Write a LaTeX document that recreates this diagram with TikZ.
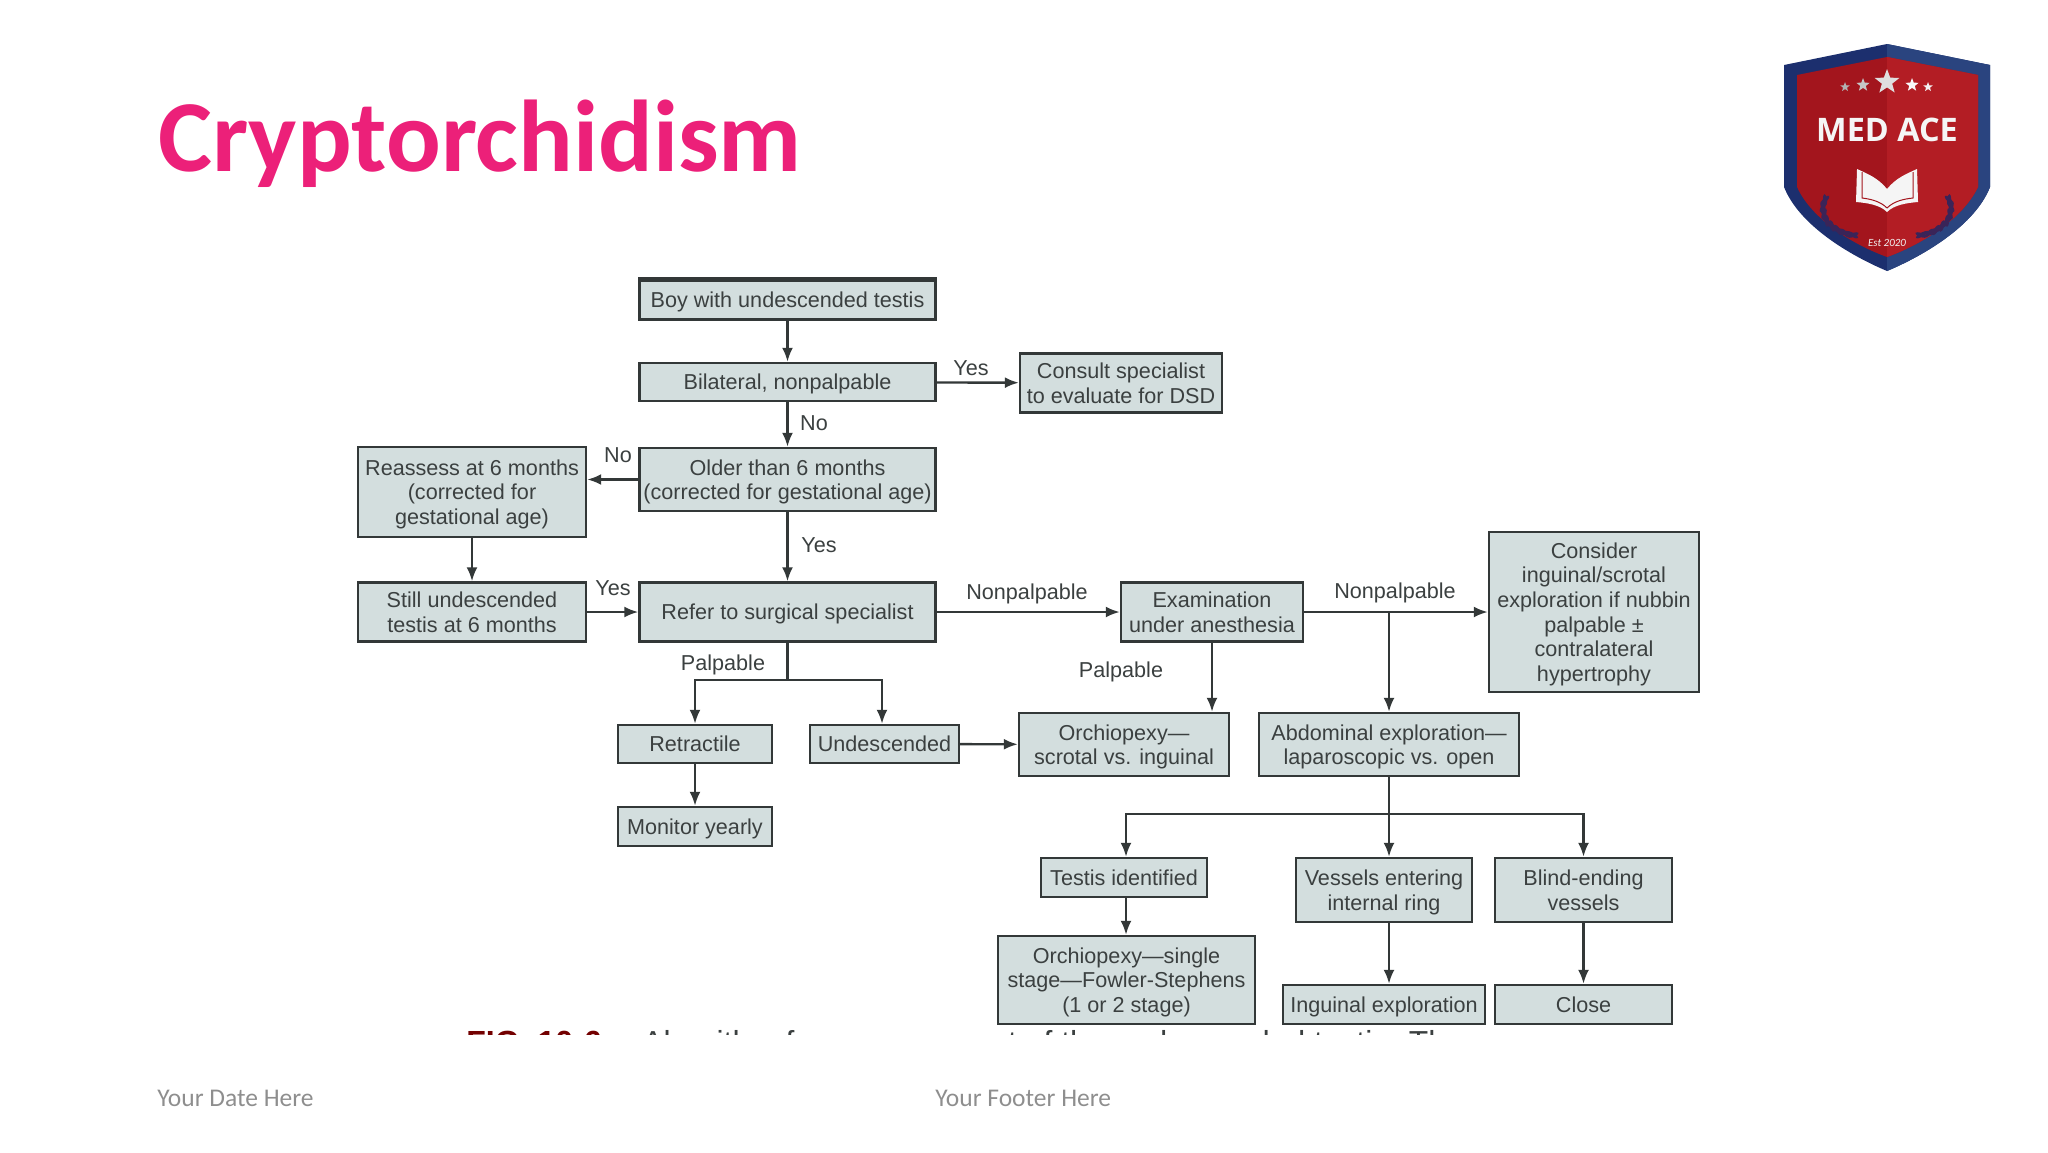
\documentclass[tikz,border=0pt]{standalone}
\usepackage{fontspec}
\setmainfont{Liberation Sans}
\newfontfamily\slidefont{Carlito}
\newfontfamily\logofont{Open Sans}
\usetikzlibrary{positioning, shapes.geometric, arrows.meta, calc}

\definecolor{boxfill}{HTML}{D3DEDE}
\definecolor{boxline}{HTML}{333838}
\definecolor{boxtext}{HTML}{3B4040}
\definecolor{titlepink}{HTML}{EC2079}
\definecolor{footgrey}{HTML}{8E8E8E}
\definecolor{shieldblue}{HTML}{1C2F6E}
\definecolor{shieldblueb}{HTML}{2A447F}
\definecolor{shieldred}{HTML}{A3151D}
\definecolor{shieldredb}{HTML}{B31D24}
\definecolor{laurel}{HTML}{3A2458}

\tikzset{
    flowbox/.style={draw=boxline, fill=boxfill, line width=1.2pt, align=center, inner sep=0pt,
        text=boxtext, font=\fontsize{10.8}{12.3}\selectfont,
        execute at begin node={\rule{0pt}{11.2pt}}, execute at end node={\rule[-3.7pt]{0pt}{0pt}}},
    flowmulti/.style={flowbox, text depth=-2.5pt},
    flowlabel/.style={text=boxtext, inner sep=0pt, font=\fontsize{10.8}{12.3}\selectfont},
    flowline/.style={draw=boxline, line width=1.2pt},
    flowarrow/.style={flowline, -{Latex[length=7pt, width=5.5pt]}},
    footnode/.style={anchor=base west, inner sep=0pt, text=footgrey, font=\slidefont\fontsize{12.75}{14}\selectfont},
}

\begin{document}
\begin{tikzpicture}[x=0.5pt, y=-0.5pt]
    \useasboundingbox (0,0) rectangle (2048,1152);

    % --- Title and footer ---
    \node[anchor=base west, inner sep=0pt, text=titlepink, font=\slidefont\bfseries\fontsize{51}{54}\selectfont] (title) at (158,171) {Cryptorchidism};
    \node[footnode] (datefoot) at (157,1106) {Your Date Here};
    \node[footnode] (textfoot) at (935,1106) {Your Footer Here};

    % --- Logo ---
    \fill[shieldblue] (1887,44) -- (1990,65) -- (1990,187) .. controls (1975,225) and (1925,255) .. (1887,271)
        .. controls (1849,255) and (1799,225) .. (1784,187) -- (1784,65) -- cycle;
    \fill[shieldblueb] (1887,44) -- (1990,65) -- (1990,187) .. controls (1975,225) and (1925,255) .. (1887,271) -- cycle;
    \fill[shieldred] (1887,57) -- (1978,75) -- (1978,187) .. controls (1962,220) and (1920,245) .. (1887,257)
        .. controls (1854,245) and (1812,220) .. (1797,187) -- (1797,75) -- cycle;
    \fill[shieldredb] (1887,57) -- (1978,75) -- (1978,187) .. controls (1962,220) and (1920,245) .. (1887,257) -- cycle;
    % stars
    \foreach \sx/\sy/\ss/\sc in {1845/87/5pt/gray!60, 1863/85/7pt/gray!45, 1887/82/13pt/gray!25, 1912/85/7pt/white!95!gray, 1928/87/5pt/white!90!gray} {
        \node[star, star points=5, star point ratio=2.4, fill=\sc, inner sep=0pt, minimum size=\ss] at (\sx,\sy) {};
    }
    \node[inner sep=0pt, text=white!92!gray, font=\logofont\bfseries\fontsize{16.2}{18}\selectfont] (medace) at (1887,130) {MED ACE};
    % book
    \fill[white!92!gray] (1887,189) .. controls (1878,178) and (1868,174) .. (1857,169) -- (1856,202) .. controls (1868,203) and (1880,205) .. (1887,212)
        .. controls (1894,205) and (1906,203) .. (1918,202) -- (1917,169) .. controls (1906,174) and (1896,178) .. (1887,189) -- cycle;
    \draw[shieldred, line width=0.5pt] (1887,208) .. controls (1880,201) and (1870,199) .. (1862,198) -- (1862,172);
    \draw[shieldred, line width=0.5pt] (1887,208) .. controls (1894,201) and (1904,199) .. (1913,198) -- (1913,172);
    % laurels
    \foreach \lx/\ly/\la in {1825/200/70, 1823/207/85, 1824/214/95, 1827/221/115, 1832/226/130, 1838/230/145, 1845/233/160, 1853/235/175} {
        \fill[laurel, rotate around={\la+25:(\lx,\ly)}] (\lx,\ly) ellipse [x radius=6, y radius=2];
        \fill[laurel, rotate around={\la-25:(\lx,\ly)}] (\lx,\ly) ellipse [x radius=6, y radius=2];
        \fill[laurel, rotate around={-\la+25:(3774-\lx,\ly)}] (3774-\lx,\ly) ellipse [x radius=6, y radius=2];
        \fill[laurel, rotate around={-\la-25:(3774-\lx,\ly)}] (3774-\lx,\ly) ellipse [x radius=6, y radius=2];
    }
    \node[inner sep=0pt, text=white!90!gray, font=\slidefont\itshape\fontsize{5.5}{6}\selectfont] (estyear) at (1887,243) {Est 2020};

    % --- Boxes ---
    \node[flowbox, minimum width=148pt, minimum height=19.5pt] (boy) at (787.5,300) {Boy with undescended testis};
    \node[flowbox, minimum width=148pt, minimum height=19pt] (bilateral) at (787.5,382) {Bilateral, nonpalpable};
    \node[flowmulti, minimum width=101pt, minimum height=29.5pt] (consult) at (1121,383) {Consult specialist\\to evaluate for DSD};
    \node[flowmulti, minimum width=148pt, minimum height=31.5pt] (older) at (787.5,479.5) {Older than 6 months\\(corrected for gestational age)};
    \node[flowmulti, minimum width=114pt, minimum height=45pt] (reassess) at (472,492) {Reassess at 6 months\\(corrected for\\gestational age)};
    \node[flowmulti, minimum width=114pt, minimum height=29.5pt] (still) at (472,612) {Still undescended\\testis at 6 months};
    \node[flowbox, minimum width=148pt, minimum height=29.5pt] (refer) at (787.5,612) {Refer to surgical specialist};
    \node[flowmulti, minimum width=91pt, minimum height=29.5pt] (exam) at (1212,612) {Examination\\under anesthesia};
    \node[flowmulti, minimum width=105pt, minimum height=80pt] (consider) at (1594,612) {Consider\\inguinal/scrotal\\exploration if nubbin\\palpable ±\\contralateral\\hypertrophy};
    \node[flowbox, minimum width=77pt, minimum height=19pt] (retract) at (695,744) {Retractile};
    \node[flowbox, minimum width=74.5pt, minimum height=19pt] (undesc) at (884.5,744) {Undescended};
    \node[flowmulti, minimum width=105pt, minimum height=31.5pt] (orchio) at (1124,744.5) {Orchiopexy—\\scrotal vs. inguinal};
    \node[flowmulti, minimum width=130pt, minimum height=31.5pt] (abdom) at (1389,744.5) {Abdominal exploration—\\laparoscopic vs. open};
    \node[flowbox, minimum width=77pt, minimum height=19.5pt] (monitor) at (695,826.5) {Monitor yearly};
    \node[flowbox, minimum width=83pt, minimum height=19.5pt] (testis) at (1124,877.5) {Testis identified};
    \node[flowmulti, minimum width=88pt, minimum height=32pt] (vessels) at (1384,890) {Vessels entering\\internal ring};
    \node[flowmulti, minimum width=88.5pt, minimum height=32pt] (blind) at (1583.5,890) {Blind-ending\\vessels};
    \node[flowmulti, minimum width=128.5pt, minimum height=44pt] (single) at (1126.5,980) {Orchiopexy—single\\stage—Fowler-Stephens\\(1 or 2 stage)};
    \node[flowbox, minimum width=101pt, minimum height=19.5pt] (inguinal) at (1384,1004.5) {Inguinal exploration};
    \node[flowbox, minimum width=88.5pt, minimum height=19.5pt] (closebox) at (1583.5,1004.5) {Close};
    \draw[boxline, line width=2pt] (boy.north west) -- (boy.north east);

    % --- Connectors ---
    \draw[flowarrow] (boy) -- (bilateral);
    \draw[flowarrow] (bilateral) -- (consult);
    \draw[flowarrow] (bilateral) -- (older);
    \draw[flowarrow] (older.west) -- (older.west -| reassess.east);
    \draw[flowarrow] (older) -- (refer);
    \draw[flowarrow] (reassess) -- (still);
    \draw[flowarrow] (still) -- (refer);
    \draw[flowarrow] (refer) -- (exam);
    \draw[flowarrow] (exam) -- (consider);
    \draw[flowarrow] (abdom.north |- exam.east) -- (abdom.north);
    \draw[flowarrow] (exam.south) -- (exam.south |- orchio.north);
    \draw[flowarrow] (undesc) -- (orchio);
    \draw[flowarrow] (retract) -- (monitor);
    \draw[flowarrow] ([xshift=1pt]testis.south) -- ([xshift=1pt]testis.south |- single.north);
    \draw[flowarrow] (abdom.south |- vessels.south) -- (abdom.south |- inguinal.north);
    \draw[flowarrow] (blind) -- (closebox);

    % palpable split
    \coordinate (palpsplit) at (787.5,680);
    \draw[flowline] (refer.south) -- (palpsplit);
    \draw[flowarrow] (palpsplit) -| (retract.north);
    \draw[flowarrow] (palpsplit) -| ([xshift=-1.25pt]undesc.north);

    % abdominal split
    \coordinate (abdsplit) at (1389,814);
    \draw[flowline] (abdom.south) -- (abdsplit);
    \draw[flowarrow] (abdsplit) -| ([xshift=1pt]testis.north);
    \draw[flowarrow] (abdsplit) -- (abdsplit |- vessels.north);
    \draw[flowarrow] (abdsplit) -| (blind.north);

    % --- Labels ---
    \node[flowlabel] (yesa) at (971,368) {Yes};
    \node[flowlabel] (noa) at (814,423) {No};
    \node[flowlabel] (nob) at (618,455) {No};
    \node[flowlabel] (yesb) at (819,545) {Yes};
    \node[flowlabel] (yesc) at (613,588) {Yes};
    \node[flowlabel] (nonpa) at (1027,594) {Nonpalpable};
    \node[flowlabel] (nonpb) at (1395,593) {Nonpalpable};
    \node[flowlabel] (palpa) at (723,665) {Palpable};
    \node[flowlabel] (palpb) at (1121,672) {Palpable};

    % --- Cut-off caption ---
    \begin{scope}
        \clip (440,1000) rectangle (1600,1034);
        \node[anchor=north west, inner sep=0pt, text=red!45!black, font=\bfseries\fontsize{16}{17}\selectfont] (figno) at (466,1030.5) {FIG. 10-6};
        \node[anchor=north west, inner sep=0pt, text=boxtext, font=\fontsize{15.9}{17}\selectfont] (figtext) at (642,1030.5) {Algorithm for management of the undescended testis. The};
    \end{scope}
\end{tikzpicture}
\end{document}
